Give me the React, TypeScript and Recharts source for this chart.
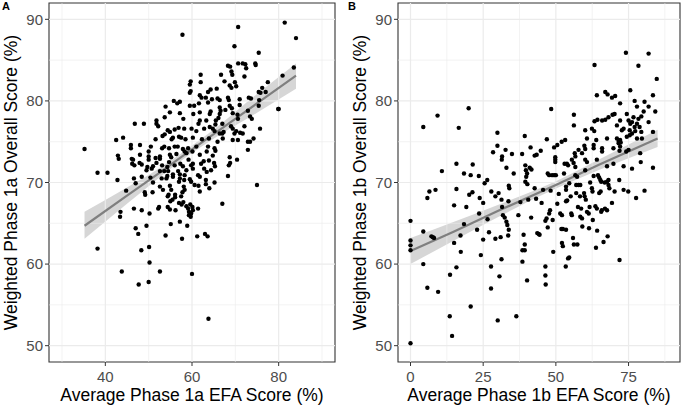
import React from "react";
import {
  ComposedChart,
  Scatter,
  Line,
  Area,
  XAxis,
  YAxis,
  ReferenceLine,
  ReferenceArea,
} from "recharts";

const FONT = '"Liberation Sans", Arial, Helvetica, sans-serif';

// panel A: [EFA score, overall score]
const phase1aPoints: [number, number][] = [
  [70.65, 89.06], [81.4, 89.6], [57.8, 88.1], [84.0, 87.7], [69.8, 86.7], [75.4, 85.9],
  [74.6, 84.6], [74.7, 84.4], [68.3, 84.3], [68.8, 84.2], [70.65, 84.6], [71.7, 84.6], [72.3, 84.5], [72.5, 84.0], [83.5, 84.1],
  [66.7, 83.2], [62.0, 83.2], [69.1, 83.6], [69.3, 83.2], [72.1, 83.0], [80.9, 83.1],
  [59.7, 82.4], [59.5, 82.0], [62.0, 82.3], [67.5, 82.4], [69.9, 82.3], [70.2, 81.8], [77.5, 82.3],
  [68.7, 81.9], [69.1, 81.6], [64.3, 81.4], [65.7, 81.5], [59.7, 81.2], [59.5, 81.0], [63.7, 81.1], [76.2, 81.6], [75.8, 81.0], [75.4, 81.1], [77.0, 81.1],
  [61.8, 80.7], [62.2, 80.4], [63.2, 80.4], [64.6, 80.2], [65.9, 80.3], [66.4, 80.1], [68.3, 80.4], [68.5, 80.1], [71.0, 80.2], [73.1, 80.4], [73.6, 80.3],
  [55.8, 80.0], [56.6, 79.7], [57.2, 79.9], [59.5, 79.4], [60.5, 79.4], [61.6, 79.7], [63.7, 79.8], [66.4, 79.2], [66.6, 78.8], [68.7, 79.4], [69.2, 79.1], [71.0, 79.5], [75.4, 79.4], [75.5, 80.1], [79.9, 79.0],
  [53.9, 79.3], [51.8, 77.6], [51.8, 77.2], [53.7, 78.0], [54.9, 78.6], [57.2, 78.5], [58.0, 77.8], [60.3, 78.4], [61.8, 78.6], [64.3, 78.7], [64.1, 78.4], [66.4, 78.4], [66.1, 77.9], [67.7, 78.9], [69.4, 78.5], [70.5, 78.3], [70.6, 77.8], [72.9, 78.8], [73.8, 77.8], [73.4, 78.1],
  [61.8, 77.6], [61.5, 77.2], [63.3, 77.6], [64.1, 76.8], [65.5, 77.6], [65.4, 77.1], [67.0, 77.2], [69.0, 76.9], [69.4, 76.6], [72.1, 76.9], [75.7, 76.6],
  [46.8, 77.2], [48.9, 77.2], [52.2, 76.9], [54.4, 76.4], [54.9, 76.2], [56.0, 76.5], [56.9, 76.7], [58.2, 76.6], [59.9, 76.6], [61.0, 76.3], [62.8, 76.6], [64.8, 76.6], [65.2, 76.3], [66.4, 76.0], [67.3, 76.2], [69.8, 76.0], [70.2, 76.3], [71.1, 76.1],
  [44.1, 75.5], [42.5, 75.2], [45.9, 74.6], [45.9, 74.2], [48.0, 74.6], [50.5, 74.4], [51.6, 75.3], [53.2, 75.7], [53.7, 75.9], [55.6, 75.5], [55.3, 75.3], [57.0, 75.6], [57.5, 75.5], [58.5, 75.3], [60.2, 75.5], [62.3, 75.3], [63.9, 75.4], [65.9, 75.0], [67.1, 75.4], [67.0, 76.0], [69.4, 75.2], [70.6, 75.2], [71.7, 76.0], [73.4, 75.0], [74.2, 75.4],
  [53.1, 74.2], [53.6, 74.4], [54.7, 74.2], [56.0, 74.4], [56.7, 74.4], [57.9, 74.1], [59.1, 74.2], [61.0, 74.4], [63.7, 74.4], [65.2, 74.2], [65.4, 73.9],
  [42.9, 73.3], [43.1, 72.9], [46.1, 72.9], [46.4, 72.8], [48.0, 73.4], [50.0, 73.8], [50.0, 73.2], [50.0, 72.8], [51.6, 73.0], [51.8, 72.4], [52.6, 73.2], [52.6, 72.9], [54.9, 73.4], [55.2, 73.1], [56.4, 73.5], [58.3, 73.8], [58.7, 73.6], [60.1, 73.8], [61.8, 73.4], [63.4, 73.8], [64.8, 73.3], [72.9, 74.0], [72.9, 75.0], [68.7, 73.1], [68.8, 72.4], [68.5, 72.1], [70.4, 72.8],
  [46.2, 72.3], [46.7, 72.1], [47.9, 72.4], [48.4, 72.2], [49.7, 71.9], [49.5, 71.5], [51.0, 72.0], [50.7, 71.7], [53.1, 72.1], [54.7, 72.5], [54.3, 71.9], [56.0, 72.1], [57.3, 72.3], [57.9, 72.0], [59.2, 72.8], [59.8, 72.1], [60.2, 72.3], [62.1, 72.3], [62.7, 72.6], [63.9, 72.7], [65.1, 72.4], [65.3, 72.0],
  [52.6, 71.4], [53.6, 71.4], [54.5, 71.4], [55.6, 71.0], [56.8, 71.4], [57.2, 71.0], [58.7, 71.5], [60.2, 71.7], [62.8, 71.7], [63.4, 71.3], [64.4, 71.5],
  [40.5, 71.2], [38.2, 71.2], [42.8, 70.3], [46.6, 70.5], [47.0, 69.9], [48.4, 70.7], [50.4, 70.6], [51.0, 70.0], [53.0, 70.5], [54.3, 70.8], [54.1, 70.5], [55.6, 70.7], [57.2, 70.5], [57.0, 70.1], [58.3, 70.9], [58.2, 70.3], [59.5, 70.4], [59.8, 70.1], [61.4, 70.9], [61.8, 70.7], [63.2, 70.3], [63.2, 69.8], [64.0, 69.3], [65.2, 70.0], [68.3, 70.8],
  [44.8, 69.0], [49.1, 68.8], [49.2, 68.5], [50.9, 68.8], [52.6, 69.5], [53.3, 69.1], [54.9, 69.6], [55.2, 69.1], [58.1, 69.5], [58.3, 69.1], [60.6, 69.7], [61.5, 69.6],
  [54.6, 68.5], [54.4, 68.3], [56.1, 68.5], [56.1, 68.2], [57.8, 68.8], [57.5, 68.3], [61.8, 68.9], [55.0, 67.7], [55.5, 67.9], [57.0, 67.5], [67.0, 67.4],
  [43.5, 66.4], [43.4, 65.8], [46.6, 66.8], [48.4, 66.6], [50.2, 66.2], [52.4, 67.0], [52.2, 66.8], [54.4, 67.0], [54.9, 66.7], [56.2, 66.6], [57.6, 67.3], [58.0, 67.6], [58.7, 67.1], [59.1, 66.8], [59.6, 67.3], [60.1, 67.0], [60.2, 66.6], [59.8, 66.2], [59.3, 66.4], [59.7, 65.8], [61.4, 66.8], [57.2, 65.2], [55.1, 64.9], [59.3, 66.0],
  [47.0, 64.4], [47.6, 63.7], [49.5, 64.7], [53.9, 63.5], [57.7, 63.1], [58.9, 64.7], [61.2, 63.4], [63.0, 63.7], [63.6, 63.4],
  [38.2, 61.9], [48.3, 61.7], [50.1, 62.1], [50.2, 60.2], [43.8, 59.1], [52.6, 59.1], [60.0, 58.8], [47.7, 57.5], [50.0, 57.8], [63.8, 53.3], [35.2, 74.1], [75.0, 69.7], [80.0, 79.0],
];

// panel B: [EFA score, overall score]
const phase1bPoints: [number, number][] = [
  [0, 50.3], [0, 65.3], [0, 62.9], [0, 62.3], [0, 61.7], [4.4, 64.0], [4.4, 60.0], [4.4, 76.8], [5.8, 68.1], [5.8, 57.1], [6.5, 68.9], [7.2, 63.4], [7.7, 63.3], [8.1, 63.2], [9.3, 78.2], [8.6, 69.1], [9.5, 56.6], [10.8, 71.4],
  [13.5, 53.6], [14.3, 51.2], [13.6, 58.7], [15.0, 62.6], [15.0, 67.2], [15.8, 72.3], [15.8, 69.2], [15.8, 59.6], [16.6, 76.7], [17.2, 63.5], [17.3, 61.5], [18.4, 71.1], [18.4, 64.9], [19.2, 67.0],
  [20.0, 79.1], [20.2, 68.5], [20.7, 70.9], [20.7, 54.8], [21.4, 72.2], [21.3, 68.8], [22.9, 64.2], [23.5, 70.8], [23.6, 66.2], [23.8, 68.1], [24.2, 61.1], [25.0, 67.5], [25.0, 63.0], [25.5, 69.9], [26.4, 70.3], [26.5, 65.5], [27.0, 63.9], [27.7, 59.7], [27.7, 57.0], [27.8, 68.9], [28.4, 73.7], [29.2, 68.3], [29.2, 63.1], [29.9, 76.1], [29.9, 74.5],
  [30.0, 53.1], [30.3, 68.7], [30.6, 58.5], [31.0, 63.3], [31.3, 67.9], [31.4, 72.8], [31.5, 73.2], [31.3, 60.6], [31.5, 67.0], [31.8, 66.0], [32.4, 65.7], [33.0, 65.2], [33.3, 64.8], [33.8, 64.2], [32.7, 74.0], [33.0, 71.8], [33.8, 69.6], [34.0, 69.3], [33.7, 67.7], [33.6, 63.5], [34.9, 73.5], [35.5, 71.1], [36.4, 53.6], [37.1, 66.0], [37.8, 67.6],
  [38.4, 73.5], [38.5, 61.7], [39.3, 61.7], [38.5, 60.3], [38.9, 63.6], [39.3, 75.7], [39.5, 72.1], [39.7, 71.5], [40.1, 71.1], [39.8, 70.7], [39.5, 70.1], [40.2, 69.8], [39.3, 62.4], [40.1, 58.0], [40.5, 67.9], [41.0, 71.8], [41.3, 74.3], [41.6, 71.6], [41.5, 65.7], [42.7, 73.3], [42.7, 69.3], [43.2, 68.0], [43.4, 73.4], [43.6, 63.8], [44.1, 63.7], [44.4, 63.6], [44.8, 73.9], [45.6, 69.1], [45.1, 67.5],
  [46.4, 65.3], [46.8, 65.6], [46.4, 58.6], [46.4, 59.7], [46.5, 57.5], [46.9, 75.3], [47.2, 71.1], [47.2, 64.5], [47.7, 66.2], [48.0, 66.6], [47.7, 70.9], [48.2, 69.0], [48.4, 79.0], [48.7, 70.9], [49.4, 70.9], [50.0, 70.9], [48.9, 65.4], [49.1, 61.5], [49.4, 74.3], [49.8, 73.1], [49.8, 72.8], [49.8, 72.5],
  [50.5, 74.6], [50.5, 67.4], [51.0, 68.6], [51.5, 66.2], [52.1, 66.0], [52.0, 75.0], [51.9, 64.3], [52.4, 64.3], [52.1, 62.6], [52.4, 62.2], [52.8, 71.1], [53.0, 72.3], [53.2, 75.2], [53.4, 59.7], [53.5, 69.5], [53.5, 69.1], [53.5, 67.7], [53.9, 67.8], [53.5, 64.2], [53.8, 72.3], [54.2, 72.1], [54.2, 60.7], [54.6, 60.8], [54.6, 69.9],
  [55.1, 68.3], [55.3, 66.2], [55.5, 66.0], [55.5, 72.8], [56.1, 72.4], [55.9, 63.2], [56.2, 78.3], [56.2, 77.0], [56.2, 62.4], [57.4, 62.4], [56.5, 73.6], [56.7, 73.2], [56.7, 71.9], [56.7, 70.9], [57.3, 70.7], [57.0, 69.7], [57.0, 68.7], [57.6, 67.0], [57.8, 74.0], [57.8, 69.7], [58.4, 69.7], [58.3, 68.3], [58.4, 65.8], [59.0, 65.6], [58.7, 66.8], [59.1, 64.6],
  [59.7, 68.7], [59.9, 68.3], [60.3, 67.9], [60.1, 71.5], [60.7, 66.4], [61.3, 66.2], [61.4, 64.4], [61.6, 67.0], [61.8, 70.0], [62.4, 69.3], [62.6, 68.9], [62.7, 65.4], [63.0, 70.8], [63.6, 67.1], [64.1, 66.8], [63.8, 62.0], [64.2, 64.1], [64.5, 70.9], [64.9, 70.6], [65.3, 70.3], [65.6, 70.1], [64.9, 68.7], [65.4, 68.9], [65.6, 66.4], [65.8, 66.6], [66.4, 62.7],
  [66.8, 70.0], [67.6, 70.1], [68.1, 70.3], [66.9, 66.8], [67.6, 66.6], [67.8, 63.4], [68.1, 69.7], [68.4, 69.3], [69.3, 67.5], [70.2, 68.9], [71.8, 70.3], [71.9, 60.5], [73.3, 69.1], [74.9, 68.9], [77.6, 68.1], [80.5, 69.0],
  [74.1, 85.9], [81.9, 85.8], [63.3, 84.4], [78.4, 84.3], [84.7, 82.7], [75.6, 81.3], [64.1, 80.7], [67.0, 81.1], [67.8, 80.8], [69.3, 80.4], [70.4, 80.6], [83.4, 80.7], [72.1, 79.7], [77.1, 80.0], [80.5, 79.9], [81.9, 79.3], [77.9, 79.3], [80.2, 78.7], [79.4, 78.1], [84.2, 78.7], [74.4, 78.4],
  [63.3, 77.5], [64.3, 77.7], [65.9, 77.6], [67.0, 77.7], [68.1, 78.0], [69.5, 78.3], [70.2, 78.4], [72.1, 77.6], [75.0, 77.6], [76.2, 77.4], [75.6, 77.2], [76.7, 78.0], [78.4, 77.8], [77.9, 77.2], [78.8, 76.8], [81.9, 77.4],
  [62.4, 76.6], [63.2, 76.3], [60.1, 76.4], [71.0, 77.0], [72.7, 76.4], [73.3, 76.6], [75.4, 76.4], [76.2, 76.0], [77.1, 76.8], [77.3, 76.3], [79.4, 76.2], [83.4, 76.2],
  [60.7, 75.4], [63.9, 75.2], [67.6, 75.4], [71.0, 75.4], [71.6, 75.0], [72.1, 75.2], [74.4, 75.6], [75.4, 75.8], [77.9, 75.4], [79.6, 75.4],
  [59.8, 74.5], [60.1, 74.1], [63.0, 74.6], [63.0, 74.2], [65.9, 74.2], [65.9, 73.8], [69.8, 74.2], [71.6, 74.8], [72.1, 74.4], [72.3, 74.9], [71.9, 73.9], [74.2, 73.8], [75.0, 74.0], [59.0, 73.6], [79.0, 73.6],
  [60.1, 72.8], [60.7, 72.5], [64.1, 72.8], [67.6, 72.0], [69.8, 72.3], [73.3, 72.0], [76.2, 71.7], [79.2, 72.5], [83.4, 71.8],
];

// linear fit and its 95% band: [x, fit, lower, upper]
const phase1aFit: [number, number, number, number][] = [
  [35.2, 64.7, 63.1, 66.4], [45, 68.4, 67.4, 69.4], [52, 71.0, 70.4, 71.6], [59, 73.7, 73.25, 74.15],
  [66, 76.3, 75.7, 76.9], [75, 79.7, 78.55, 80.85], [84, 83.1, 81.5, 84.6],
];
const phase1bFit: [number, number, number, number][] = [
  [0, 61.6, 60.0, 63.2], [15, 64.0, 62.9, 65.2], [30, 66.5, 65.75, 67.25], [50, 69.7, 69.25, 70.15],
  [65, 72.2, 71.55, 72.85], [85, 75.4, 74.35, 76.45],
];

const yTicks = [50, 60, 70, 80, 90];
const yMinor = [55, 65, 75, 85];
const aTicks = [40, 60, 80];
const aMinor = [30, 50, 70, 90];
const bTicks = [0, 25, 50, 75];
const bMinor = [12.5, 37.5, 62.5, 87.5];

const Y_DOMAIN: [number, number] = [48, 92];

type PanelProps = {
  points: [number, number][];
  fit: [number, number, number, number][];
  xDomain: [number, number];
  xTicks: number[];
  xMinor: number[];
  width: number;
  yAxisWidth: number;
  rightMargin: number;
};

const Dot = (p: any) => <circle cx={p.cx} cy={p.cy} r={2.2} fill="#000" />;

const Panel = ({ points, fit, xDomain, xTicks, xMinor, width, yAxisWidth, rightMargin }: PanelProps) => {
  const fitRows = fit.map(([x, f, lo, hi]) => ({ x, fit: f, band: [lo, hi] }));
  const scatterRows = points.map(([x, y]) => ({ x, y }));
  const tickStyle = { fill: "#4d4d4d", fontSize: 15, fontFamily: FONT };
  return (
    <ComposedChart
      width={width}
      height={406}
      data={fitRows}
      margin={{ top: 3, right: rightMargin, bottom: 0, left: 0 }}
    >
      {xMinor.map((v) => (
        <ReferenceLine key={`xm${v}`} x={v} stroke="#ebebeb" strokeWidth={0.6} />
      ))}
      {yMinor.map((v) => (
        <ReferenceLine key={`ym${v}`} y={v} stroke="#ebebeb" strokeWidth={0.6} />
      ))}
      {xTicks.map((v) => (
        <ReferenceLine key={`xt${v}`} x={v} stroke="#ebebeb" strokeWidth={1.2} />
      ))}
      {yTicks.map((v) => (
        <ReferenceLine key={`yt${v}`} y={v} stroke="#ebebeb" strokeWidth={1.2} />
      ))}
      <XAxis
        dataKey="x"
        type="number"
        domain={xDomain}
        ticks={xTicks}
        allowDataOverflow
        height={44}
        axisLine={false}
        tickLine={{ stroke: "#333" }}
        tickSize={4}
        tickMargin={5}
        tick={tickStyle}
      />
      <YAxis
        type="number"
        domain={Y_DOMAIN}
        ticks={yTicks}
        allowDataOverflow
        width={yAxisWidth}
        axisLine={false}
        tickLine={{ stroke: "#333" }}
        tickSize={4}
        tickMargin={2}
        tick={tickStyle}
      />
      <Scatter data={scatterRows} dataKey="y" shape={Dot} isAnimationActive={false} />
      <Area
        dataKey="band"
        type="monotone"
        stroke="none"
        fill="#999999"
        fillOpacity={0.4}
        isAnimationActive={false}
      />
      <Line
        dataKey="fit"
        type="linear"
        stroke="#7f7f7f"
        strokeWidth={2.2}
        dot={false}
        activeDot={false}
        isAnimationActive={false}
      />
      <ReferenceArea
        x1={xDomain[0]}
        x2={xDomain[1]}
        y1={Y_DOMAIN[0]}
        y2={Y_DOMAIN[1]}
        fill="none"
        stroke="#333"
        strokeWidth={1.1}
        fillOpacity={0}
      />
    </ComposedChart>
  );
};

export default function App() {
  const titleStyle = { fontFamily: FONT, fontSize: 17.5, fill: "#000" };
  return (
    <div style={{ position: "absolute", left: 0, top: 0, width: 685, height: 406, background: "#fff" }}>
      <div style={{ position: "absolute", left: 0, top: 0 }}>
        <Panel
          points={phase1aPoints}
          fit={phase1aFit}
          xDomain={[27, 93]}
          xTicks={aTicks}
          xMinor={aMinor}
          width={345}
          yAxisWidth={49}
          rightMargin={10}
        />
      </div>
      <div style={{ position: "absolute", left: 345, top: 0 }}>
        <Panel
          points={phase1bPoints}
          fit={phase1bFit}
          xDomain={[-4.3, 92.7]}
          xTicks={bTicks}
          xMinor={bMinor}
          width={340}
          yAxisWidth={53}
          rightMargin={5}
        />
      </div>
      <svg
        width={685}
        height={406}
        style={{ position: "absolute", left: 0, top: 0, pointerEvents: "none" }}
      >
        <text x={2} y={10} style={{ fontFamily: FONT, fontSize: 11, fontWeight: "bold" }}>A</text>
        <text x={348} y={10} style={{ fontFamily: FONT, fontSize: 11, fontWeight: "bold" }}>B</text>
        <text x={192} y={401} textAnchor="middle" style={titleStyle}>Average Phase 1a EFA Score (%)</text>
        <text x={539} y={401} textAnchor="middle" style={titleStyle}>Average Phase 1b EFA Score (%)</text>
        <text
          transform="translate(17,182.5) rotate(-90)"
          textAnchor="middle"
          style={titleStyle}
        >
          Weighted Phase 1a Overall Score (%)
        </text>
        <text
          transform="translate(366,182.5) rotate(-90)"
          textAnchor="middle"
          style={titleStyle}
        >
          Weighted Phase 1b Overall Score (%)
        </text>
      </svg>
    </div>
  );
}
